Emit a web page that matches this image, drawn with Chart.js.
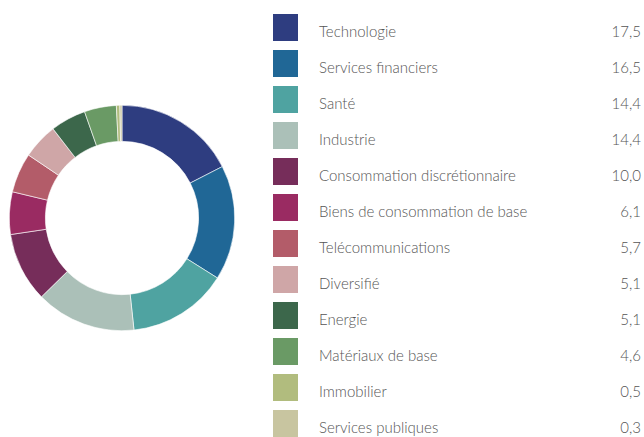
<!DOCTYPE html>
<html>
<head>
<meta charset="utf-8">
<script src="https://cdn.jsdelivr.net/npm/chart.js@4/dist/chart.umd.min.js"></script>
<style>
  html, body { margin: 0; padding: 0; background: #fff; }
  body { width: 644px; height: 437px; position: relative; overflow: hidden; font-family: Lato, "Open Sans", sans-serif; }
  #wrap { position: absolute; left: 9px; top: 105px; width: 226px; height: 226px; }
  #legend { position: absolute; left: 273px; top: 10px; width: 368px; }
  .row { position: relative; height: 36px; }
  .sw { position: absolute; left: 0; top: 4px; width: 25px; height: 27px; }
  .lab { position: absolute; left: 46px; top: 3px; line-height: 36px; font-size: 15px; font-weight: 300; color: #555; white-space: nowrap; }
  .val { position: absolute; right: 0; top: 3px; line-height: 36px; font-size: 15px; font-weight: 300; color: #555; }
</style>
</head>
<body>
<div id="wrap"><canvas id="sectors"></canvas></div>
<div id="legend"></div>
<script>
  const sectors = [
    "Technologie", "Services financiers", "Santé", "Industrie",
    "Consommation discrétionnaire", "Biens de consommation de base",
    "Telécommunications", "Diversifié", "Energie", "Matériaux de base",
    "Immobilier", "Services publiques"
  ];
  const weights = [17.5, 16.5, 14.4, 14.4, 10.0, 6.1, 5.7, 5.1, 5.1, 4.6, 0.5, 0.3];
  const colors = [
    "#2e3d80", "#206796", "#4fa3a1", "#abc0b8", "#762d5a", "#9a2b62",
    "#b35c69", "#cfa6a7", "#3c674b", "#6a9a65", "#b1bc7e", "#c8c5a0"
  ];

  const legend = document.getElementById("legend");
  sectors.forEach((name, i) => {
    const row = document.createElement("div");
    row.className = "row";
    row.innerHTML =
      '<div class="sw" style="background:' + colors[i] + '"></div>' +
      '<div class="lab">' + name + '</div>' +
      '<div class="val">' + weights[i].toFixed(1).replace(".", ",") + '</div>';
    legend.appendChild(row);
  });

  new Chart(document.getElementById("sectors"), {
    type: "doughnut",
    data: {
      labels: sectors,
      datasets: [{
        data: weights,
        backgroundColor: colors,
        borderColor: "#fff",
        borderWidth: 0.6
      }]
    },
    options: {
      responsive: true,
      maintainAspectRatio: false,
      animation: false,
      cutout: "68%",
      layout: { padding: 0 },
      plugins: {
        legend: { display: false },
        tooltip: { enabled: false }
      }
    }
  });
</script>
</body>
</html>
